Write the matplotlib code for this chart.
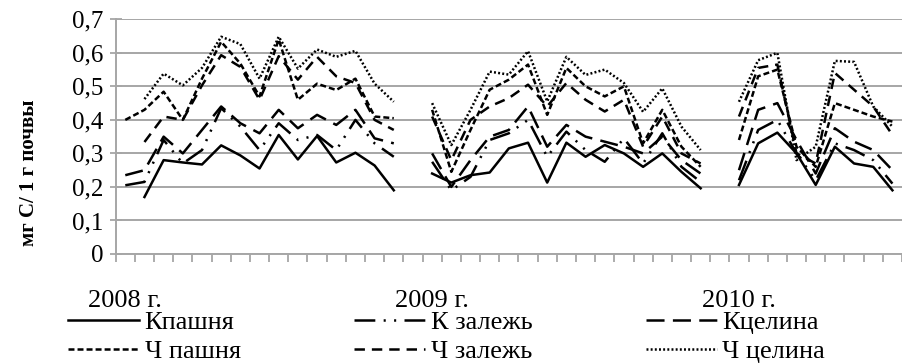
import numpy as np
import matplotlib
matplotlib.use("Agg")
import matplotlib.pyplot as plt

plt.rcParams['font.family'] = ['Liberation Serif', 'DejaVu Serif']
plt.rcParams['lines.scale_dashes'] = False

nan = np.nan

# values per year (2008 and 2009: 15 dates, 2010: 9 dates), mg C / 1 g soil
k_pashnya_2008 = [nan, 0.17, 0.28, 0.273, 0.267, 0.324, 0.294, 0.255, 0.355, 0.282, 0.352, 0.273, 0.302, 0.264, 0.19]
k_pashnya_2009 = [0.24, 0.213, 0.235, 0.243, 0.315, 0.332, 0.213, 0.332, 0.29, 0.325, 0.30, 0.26, 0.30, 0.245, 0.196]
k_pashnya_2010 = [0.206, 0.33, 0.362, 0.30, 0.206, 0.32, 0.27, 0.26, 0.19]

k_zalezh_2008 = [0.205, 0.215, 0.34, 0.27, 0.31, 0.435, 0.38, 0.31, 0.39, 0.34, 0.355, 0.31, 0.40, 0.33, 0.29]
k_zalezh_2009 = [0.275, 0.19, 0.23, 0.34, 0.36, 0.40, 0.29, 0.365, 0.31, 0.275, 0.345, 0.27, 0.36, 0.26, 0.215]
k_zalezh_2010 = [0.22, 0.37, 0.40, 0.30, 0.22, 0.33, 0.31, 0.28, 0.21]

k_tselina_2008 = [0.235, 0.25, 0.35, 0.30, 0.37, 0.44, 0.39, 0.36, 0.43, 0.375, 0.415, 0.385, 0.43, 0.345, 0.33]
k_tselina_2009 = [0.30, 0.20, 0.28, 0.35, 0.37, 0.44, 0.32, 0.385, 0.35, 0.335, 0.32, 0.30, 0.35, 0.28, 0.24]
k_tselina_2010 = [0.25, 0.43, 0.45, 0.34, 0.24, 0.375, 0.335, 0.31, 0.25]

ch_pashnya_2008 = [0.40, 0.43, 0.484, 0.40, 0.523, 0.633, 0.568, 0.47, 0.64, 0.46, 0.508, 0.489, 0.523, 0.41, 0.405]
ch_pashnya_2009 = [0.43, 0.245, 0.37, 0.49, 0.52, 0.565, 0.415, 0.555, 0.50, 0.47, 0.50, 0.33, 0.43, 0.32, 0.26]
ch_pashnya_2010 = [0.34, 0.53, 0.55, 0.32, 0.26, 0.45, 0.43, 0.41, 0.395]

ch_zalezh_2008 = [nan, 0.334, 0.41, 0.40, 0.503, 0.593, 0.558, 0.46, 0.59, 0.52, 0.588, 0.53, 0.51, 0.40, 0.37]
ch_zalezh_2009 = [0.41, 0.28, 0.40, 0.44, 0.465, 0.505, 0.44, 0.51, 0.46, 0.425, 0.46, 0.32, 0.41, 0.30, 0.27]
ch_zalezh_2010 = [0.41, 0.555, 0.565, 0.30, 0.27, 0.54, 0.49, 0.44, 0.355]

ch_tselina_2008 = [nan, 0.462, 0.538, 0.503, 0.555, 0.648, 0.626, 0.523, 0.648, 0.553, 0.61, 0.588, 0.606, 0.508, 0.454]
ch_tselina_2009 = [0.45, 0.325, 0.43, 0.544, 0.535, 0.605, 0.455, 0.588, 0.534, 0.55, 0.51, 0.424, 0.494, 0.38, 0.31]
ch_tselina_2010 = [0.454, 0.578, 0.60, 0.28, 0.32, 0.576, 0.573, 0.44, 0.38]

year_labels = ["2008 г.", "2009 г.", "2010 г."]
series_names = ["Кпашня", "К залежь", "Кцелина", "Ч пашня", "Ч залежь", "Ч целина"]


def join_years(a, b, c):
    # one empty category between years
    return np.array(a + [nan] + b + [nan] + c, dtype=float)


series = [
    join_years(k_pashnya_2008, k_pashnya_2009, k_pashnya_2010),
    join_years(k_zalezh_2008, k_zalezh_2009, k_zalezh_2010),
    join_years(k_tselina_2008, k_tselina_2009, k_tselina_2010),
    join_years(ch_pashnya_2008, ch_pashnya_2009, ch_pashnya_2010),
    join_years(ch_zalezh_2008, ch_zalezh_2009, ch_zalezh_2010),
    join_years(ch_tselina_2008, ch_tselina_2009, ch_tselina_2010),
]
styles = [
    None,
    (15, 6, 1.5, 6, 1.5, 6),
    (13, 6),
    (4.3, 2.2),
    (7.5, 5),
    (1.4, 1.6),
]

n = len(series[0])
x = np.arange(n)
year_pos = [0, len(k_pashnya_2008) + 1, len(k_pashnya_2008) + len(k_pashnya_2009) + 2]

grey = '#a6a6a6'

fig = plt.figure(figsize=(9.02, 3.63), dpi=100)
ax = fig.add_axes([115.7 / 902, 1 - 254 / 363, 1 - 115.7 / 902, (254 - 19.3) / 363])

lines = {}
for name, y, d in zip(series_names, series, styles):
    if d is None:
        ln, = ax.plot(x, y, color='black', lw=1.8, label=name)
    else:
        ln, = ax.plot(x, y, color='black', lw=1.8, dashes=d, label=name)
    lines[name] = ln

ax.set_ylim(0, 0.7)
ax.set_xlim(-0.5, -0.5 + (902 - 115.7) / 19.33)

yt = np.round(np.arange(0, 0.71, 0.1), 1)
ax.set_yticks(yt)
ax.set_yticklabels(["0" if v == 0 else f"{v:.1f}".replace('.', ',') for v in yt])
ax.yaxis.grid(True, color=grey, lw=1.4)
ax.set_axisbelow(True)

ax.set_xticks(year_pos)
ax.set_xticklabels(year_labels)
ax.set_xticks(np.arange(-0.5, n, 1), minor=True)

for s in ['top', 'right']:
    ax.spines[s].set_visible(False)
for s in ['left', 'bottom']:
    ax.spines[s].set_color(grey)
    ax.spines[s].set_linewidth(1.4)

ax.tick_params(axis='y', direction='inout', length=8, width=1.3, color=grey, labelsize=18, pad=5)
ax.tick_params(axis='x', which='major', length=0, pad=26, labelsize=19)
ax.tick_params(axis='x', which='minor', direction='out', length=6, width=1.3, color=grey)

ax.set_ylabel("мг С/ 1 г почвы", fontsize=15, fontweight='bold')
ax.yaxis.set_label_coords(-0.0975, 0.345)

# legend filled column by column: K row on top, Ч row below
order = ["Кпашня", "Ч пашня", "К залежь", "Ч залежь", "Кцелина", "Ч целина"]
fig.legend([lines[k] for k in order], order, ncol=3, loc='upper left',
           bbox_to_anchor=(68 / 902, 1 - 311 / 363), frameon=False, fontsize=19,
           handlelength=2.7, handletextpad=0.2, columnspacing=4.3,
           labelspacing=0.2, borderpad=0, borderaxespad=0)

fig.savefig("out.png", dpi=100)
